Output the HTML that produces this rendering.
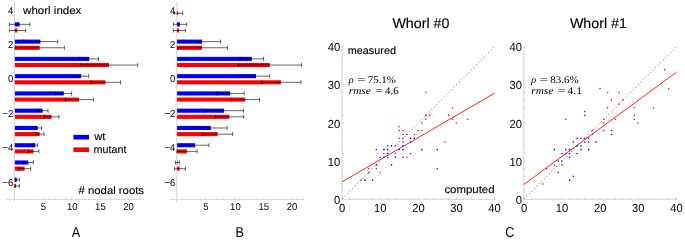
<!DOCTYPE html><html><head><meta charset="utf-8"><style>html,body{margin:0;padding:0;background:#fff}svg{display:block;will-change:transform}text{font-family:"Liberation Sans",sans-serif;fill:#000;text-rendering:geometricPrecision}.s{font-family:"Liberation Serif",serif;font-style:italic}.r{font-family:"Liberation Serif",serif}</style></head><body>
<svg width="685" height="242" viewBox="0 0 685 242">
<rect width="685" height="242" fill="#fff"/>
<path d="M14.45 1.7V202.4" stroke="#c0c0c0" stroke-width="0.7" fill="none"/>
<path d="M6.4 199.4H141" stroke="#d6d6d6" stroke-width="0.9" fill="none"/>
<path d="M20.48 199.6v-1.0M26.16 199.6v-1.0M31.84 199.6v-1.0M37.52 199.6v-1.0M43.20 199.6v-1.6M48.88 199.6v-1.0M54.56 199.6v-1.0M60.24 199.6v-1.0M65.92 199.6v-1.0M71.60 199.6v-1.6M77.28 199.6v-1.0M82.96 199.6v-1.0M88.64 199.6v-1.0M94.32 199.6v-1.0M100.00 199.6v-1.6M105.68 199.6v-1.0M111.36 199.6v-1.0M117.04 199.6v-1.0M122.72 199.6v-1.0M128.40 199.6v-1.6M134.08 199.6v-1.0M139.76 199.6v-1.0" stroke="#b0b0b0" stroke-width="0.55" fill="none"/>
<rect x="14.9" y="22.30" width="4.70" height="4.1" fill="#0000ff"/>
<path d="M9.40 24.35H29.90M9.40 22.30v4.1M29.90 22.30v4.1" stroke="#000" stroke-width="0.66" fill="none" opacity="0.92"/>
<rect x="14.9" y="28.45" width="2.40" height="4.1" fill="#ff0000"/>
<path d="M9.40 30.50H25.60M9.40 28.45v4.1M25.60 28.45v4.1" stroke="#000" stroke-width="0.66" fill="none" opacity="0.92"/>
<rect x="14.9" y="39.57" width="25.50" height="4.1" fill="#0000ff"/>
<path d="M23.50 41.62H57.70M23.50 39.57v4.1M57.70 39.57v4.1" stroke="#000" stroke-width="0.66" fill="none" opacity="0.92"/>
<rect x="14.9" y="45.72" width="24.80" height="4.1" fill="#ff0000"/>
<path d="M15.20 47.77H64.40M15.20 45.72v4.1M64.40 45.72v4.1" stroke="#000" stroke-width="0.66" fill="none" opacity="0.92"/>
<rect x="14.9" y="56.84" width="74.30" height="4.1" fill="#0000ff"/>
<path d="M79.60 58.89H98.50M79.60 56.84v4.1M98.50 56.84v4.1" stroke="#000" stroke-width="0.66" fill="none" opacity="0.92"/>
<rect x="14.9" y="62.99" width="94.10" height="4.1" fill="#ff0000"/>
<path d="M80.40 65.04H137.70M80.40 62.99v4.1M137.70 62.99v4.1" stroke="#000" stroke-width="0.66" fill="none" opacity="0.92"/>
<rect x="14.9" y="74.11" width="66.30" height="4.1" fill="#0000ff"/>
<path d="M73.60 76.16H88.70M73.60 74.11v4.1M88.70 74.11v4.1" stroke="#000" stroke-width="0.66" fill="none" opacity="0.92"/>
<rect x="14.9" y="80.26" width="90.60" height="4.1" fill="#ff0000"/>
<path d="M91.00 82.31H120.60M91.00 80.26v4.1M120.60 80.26v4.1" stroke="#000" stroke-width="0.66" fill="none" opacity="0.92"/>
<rect x="14.9" y="91.38" width="48.90" height="4.1" fill="#0000ff"/>
<path d="M55.50 93.43H71.60M55.50 91.38v4.1M71.60 91.38v4.1" stroke="#000" stroke-width="0.66" fill="none" opacity="0.92"/>
<rect x="14.9" y="97.53" width="64.20" height="4.1" fill="#ff0000"/>
<path d="M65.30 99.58H93.50M65.30 97.53v4.1M93.50 97.53v4.1" stroke="#000" stroke-width="0.66" fill="none" opacity="0.92"/>
<rect x="14.9" y="108.65" width="27.80" height="4.1" fill="#0000ff"/>
<path d="M37.20 110.70H48.00M37.20 108.65v4.1M48.00 108.65v4.1" stroke="#000" stroke-width="0.66" fill="none" opacity="0.92"/>
<rect x="14.9" y="114.80" width="36.60" height="4.1" fill="#ff0000"/>
<path d="M44.00 116.85H59.00M44.00 114.80v4.1M59.00 114.80v4.1" stroke="#000" stroke-width="0.66" fill="none" opacity="0.92"/>
<rect x="14.9" y="125.92" width="22.80" height="4.1" fill="#0000ff"/>
<path d="M35.40 127.97H41.50M35.40 125.92v4.1M41.50 125.92v4.1" stroke="#000" stroke-width="0.66" fill="none" opacity="0.92"/>
<rect x="14.9" y="132.07" width="24.80" height="4.1" fill="#ff0000"/>
<path d="M35.90 134.12H44.00M35.90 132.07v4.1M44.00 132.07v4.1" stroke="#000" stroke-width="0.66" fill="none" opacity="0.92"/>
<rect x="14.9" y="143.19" width="20.30" height="4.1" fill="#0000ff"/>
<path d="M32.70 145.24H37.70M32.70 143.19v4.1M37.70 143.19v4.1" stroke="#000" stroke-width="0.66" fill="none" opacity="0.92"/>
<rect x="14.9" y="149.34" width="18.50" height="4.1" fill="#ff0000"/>
<path d="M28.40 151.39H38.90M28.40 149.34v4.1M38.90 149.34v4.1" stroke="#000" stroke-width="0.66" fill="none" opacity="0.92"/>
<rect x="14.9" y="160.46" width="13.50" height="4.1" fill="#0000ff"/>
<path d="M23.90 162.51H33.40M23.90 160.46v4.1M33.40 160.46v4.1" stroke="#000" stroke-width="0.66" fill="none" opacity="0.92"/>
<rect x="14.9" y="166.61" width="9.70" height="4.1" fill="#ff0000"/>
<path d="M18.80 168.66H30.70M18.80 166.61v4.1M30.70 166.61v4.1" stroke="#000" stroke-width="0.66" fill="none" opacity="0.92"/>
<rect x="14.9" y="177.73" width="1.90" height="4.1" fill="#0000ff"/>
<path d="M15.00 179.78H19.30M15.00 177.73v4.1M19.30 177.73v4.1" stroke="#000" stroke-width="0.66" fill="none" opacity="0.92"/>
<rect x="14.9" y="183.88" width="1.20" height="4.1" fill="#ff0000"/>
<path d="M14.30 185.93H19.30M14.30 183.88v4.1M19.30 183.88v4.1" stroke="#000" stroke-width="0.66" fill="none" opacity="0.92"/>
<text transform="translate(13.3 13.7) scale(0.95 1)" font-size="10.0" text-anchor="end">4</text>
<text transform="translate(13.3 48.0) scale(0.95 1)" font-size="10.0" text-anchor="end">2</text>
<text transform="translate(13.3 82.4) scale(0.95 1)" font-size="10.0" text-anchor="end">0</text>
<text transform="translate(13.3 117.2) scale(0.95 1)" font-size="10.0" text-anchor="end">−2</text>
<text transform="translate(13.3 151.1) scale(0.95 1)" font-size="10.0" text-anchor="end">−4</text>
<text transform="translate(13.3 186.4) scale(0.95 1)" font-size="10.0" text-anchor="end">−6</text>
<text transform="translate(43.3 209.9) scale(0.95 1)" font-size="10.0" text-anchor="middle">5</text>
<text transform="translate(72.2 209.9) scale(0.95 1)" font-size="10.0" text-anchor="middle">10</text>
<text transform="translate(100.4 209.9) scale(0.95 1)" font-size="10.0" text-anchor="middle">15</text>
<text transform="translate(128.6 209.9) scale(0.95 1)" font-size="10.0" text-anchor="middle">20</text>
<text x="23.1" y="13.6" font-size="10.8" stroke="#000" stroke-width="0.12" textLength="58.3" lengthAdjust="spacingAndGlyphs">whorl index</text>
<text x="78.6" y="194.2" font-size="10.8" stroke="#000" stroke-width="0.12" textLength="65.4" lengthAdjust="spacingAndGlyphs"># nodal roots</text>
<rect x="73.4" y="134.9" width="15.6" height="4.6" fill="#0000ff"/>
<rect x="73.4" y="147.4" width="15.6" height="4.6" fill="#ff0000"/>
<text x="94.2" y="140.4" font-size="10.8" stroke="#000" stroke-width="0.12" textLength="11.3" lengthAdjust="spacingAndGlyphs">wt</text>
<text x="93.5" y="153" font-size="10.8" stroke="#000" stroke-width="0.12" textLength="32.9" lengthAdjust="spacingAndGlyphs">mutant</text>
<path d="M176.85 1.7V202.4" stroke="#c0c0c0" stroke-width="0.7" fill="none"/>
<path d="M170.6 199.4H304" stroke="#d6d6d6" stroke-width="0.9" fill="none"/>
<path d="M182.82 199.6v-1.0M188.54 199.6v-1.0M194.26 199.6v-1.0M199.98 199.6v-1.0M205.70 199.6v-1.6M211.42 199.6v-1.0M217.14 199.6v-1.0M222.86 199.6v-1.0M228.58 199.6v-1.0M234.30 199.6v-1.6M240.02 199.6v-1.0M245.74 199.6v-1.0M251.46 199.6v-1.0M257.18 199.6v-1.0M262.90 199.6v-1.6M268.62 199.6v-1.0M274.34 199.6v-1.0M280.06 199.6v-1.0M285.78 199.6v-1.0M291.50 199.6v-1.6M297.22 199.6v-1.0M302.94 199.6v-1.0" stroke="#b0b0b0" stroke-width="0.55" fill="none"/>
<rect x="177.1" y="11.18" width="1.00" height="4.1" fill="#ff0000"/>
<path d="M174.40 13.23H182.70M174.40 11.18v4.1M182.70 11.18v4.1" stroke="#000" stroke-width="0.66" fill="none" opacity="0.92"/>
<rect x="177.1" y="22.30" width="2.80" height="4.1" fill="#0000ff"/>
<path d="M173.40 24.35H186.70M173.40 22.30v4.1M186.70 22.30v4.1" stroke="#000" stroke-width="0.66" fill="none" opacity="0.92"/>
<rect x="177.1" y="28.45" width="2.00" height="4.1" fill="#ff0000"/>
<path d="M173.40 30.50H185.40M173.40 28.45v4.1M185.40 28.45v4.1" stroke="#000" stroke-width="0.66" fill="none" opacity="0.92"/>
<rect x="177.1" y="39.57" width="24.90" height="4.1" fill="#0000ff"/>
<path d="M183.40 41.62H220.60M183.40 39.57v4.1M220.60 39.57v4.1" stroke="#000" stroke-width="0.66" fill="none" opacity="0.92"/>
<rect x="177.1" y="45.72" width="24.90" height="4.1" fill="#ff0000"/>
<path d="M177.30 47.77H227.40M177.30 45.72v4.1M227.40 45.72v4.1" stroke="#000" stroke-width="0.66" fill="none" opacity="0.92"/>
<rect x="177.1" y="56.84" width="74.70" height="4.1" fill="#0000ff"/>
<path d="M240.00 58.89H263.60M240.00 56.84v4.1M263.60 56.84v4.1" stroke="#000" stroke-width="0.66" fill="none" opacity="0.92"/>
<rect x="177.1" y="62.99" width="92.70" height="4.1" fill="#ff0000"/>
<path d="M238.20 65.04H301.50M238.20 62.99v4.1M301.50 62.99v4.1" stroke="#000" stroke-width="0.66" fill="none" opacity="0.92"/>
<rect x="177.1" y="74.11" width="78.90" height="4.1" fill="#0000ff"/>
<path d="M242.50 76.16H269.60M242.50 74.11v4.1M269.60 74.11v4.1" stroke="#000" stroke-width="0.66" fill="none" opacity="0.92"/>
<rect x="177.1" y="80.26" width="103.80" height="4.1" fill="#ff0000"/>
<path d="M261.60 82.31H301.00M261.60 80.26v4.1M301.00 80.26v4.1" stroke="#000" stroke-width="0.66" fill="none" opacity="0.92"/>
<rect x="177.1" y="91.38" width="53.10" height="4.1" fill="#0000ff"/>
<path d="M216.60 93.43H244.20M216.60 91.38v4.1M244.20 91.38v4.1" stroke="#000" stroke-width="0.66" fill="none" opacity="0.92"/>
<rect x="177.1" y="97.53" width="68.10" height="4.1" fill="#ff0000"/>
<path d="M231.40 99.58H259.50M231.40 97.53v4.1M259.50 97.53v4.1" stroke="#000" stroke-width="0.66" fill="none" opacity="0.92"/>
<rect x="177.1" y="108.65" width="47.00" height="4.1" fill="#0000ff"/>
<path d="M204.50 110.70H243.50M204.50 108.65v4.1M243.50 108.65v4.1" stroke="#000" stroke-width="0.66" fill="none" opacity="0.92"/>
<rect x="177.1" y="114.80" width="52.30" height="4.1" fill="#ff0000"/>
<path d="M215.10 116.85H243.70M215.10 114.80v4.1M243.70 114.80v4.1" stroke="#000" stroke-width="0.66" fill="none" opacity="0.92"/>
<rect x="177.1" y="125.92" width="33.70" height="4.1" fill="#0000ff"/>
<path d="M194.50 127.97H227.10M194.50 125.92v4.1M227.10 125.92v4.1" stroke="#000" stroke-width="0.66" fill="none" opacity="0.92"/>
<rect x="177.1" y="132.07" width="40.50" height="4.1" fill="#ff0000"/>
<path d="M202.30 134.12H232.70M202.30 132.07v4.1M232.70 132.07v4.1" stroke="#000" stroke-width="0.66" fill="none" opacity="0.92"/>
<rect x="177.1" y="143.19" width="18.10" height="4.1" fill="#0000ff"/>
<path d="M181.40 145.24H209.00M181.40 143.19v4.1M209.00 143.19v4.1" stroke="#000" stroke-width="0.66" fill="none" opacity="0.92"/>
<rect x="177.1" y="149.34" width="9.80" height="4.1" fill="#ff0000"/>
<path d="M176.90 151.39H197.20M176.90 149.34v4.1M197.20 149.34v4.1" stroke="#000" stroke-width="0.66" fill="none" opacity="0.92"/>
<rect x="177.1" y="160.46" width="0.40" height="4.1" fill="#0000ff"/>
<path d="M175.40 162.51H179.40M175.40 160.46v4.1M179.40 160.46v4.1" stroke="#000" stroke-width="0.66" fill="none" opacity="0.92"/>
<rect x="177.1" y="166.61" width="2.50" height="4.1" fill="#ff0000"/>
<path d="M174.40 168.66H185.40M174.40 166.61v4.1M185.40 166.61v4.1" stroke="#000" stroke-width="0.66" fill="none" opacity="0.92"/>
<text transform="translate(175.3 13.7) scale(0.95 1)" font-size="10.0" text-anchor="end">4</text>
<text transform="translate(175.3 48.0) scale(0.95 1)" font-size="10.0" text-anchor="end">2</text>
<text transform="translate(175.3 82.4) scale(0.95 1)" font-size="10.0" text-anchor="end">0</text>
<text transform="translate(175.3 117.2) scale(0.95 1)" font-size="10.0" text-anchor="end">−2</text>
<text transform="translate(175.3 151.1) scale(0.95 1)" font-size="10.0" text-anchor="end">−4</text>
<text transform="translate(175.3 186.4) scale(0.95 1)" font-size="10.0" text-anchor="end">−6</text>
<text transform="translate(205.8 209.9) scale(0.95 1)" font-size="10.0" text-anchor="middle">5</text>
<text transform="translate(235.4 209.9) scale(0.95 1)" font-size="10.0" text-anchor="middle">10</text>
<text transform="translate(263.8 209.9) scale(0.95 1)" font-size="10.0" text-anchor="middle">15</text>
<text transform="translate(292 209.9) scale(0.95 1)" font-size="10.0" text-anchor="middle">20</text>
<text transform="translate(76.0 237.2) scale(0.88 1)" font-size="14.3" text-anchor="middle">A</text>
<text transform="translate(239.8 237.2) scale(0.88 1)" font-size="14.3" text-anchor="middle">B</text>
<text transform="translate(509.8 237.2) scale(0.88 1)" font-size="14.3" text-anchor="middle">C</text>
<path d="M342 46.79999999999998V199.7M341.6 199.29999999999998H495.4" stroke="#b0b0b0" stroke-width="0.55" fill="none"/>
<path d="M349.62 199.2v-1.4M342 191.58h1.4M357.24 199.2v-1.4M342 183.96h1.4M364.86 199.2v-1.4M342 176.34h1.4M372.48 199.2v-1.4M342 168.72h1.4M380.10 199.2v-2.3M342 161.10h2.3M387.72 199.2v-1.4M342 153.48h1.4M395.34 199.2v-1.4M342 145.86h1.4M402.96 199.2v-1.4M342 138.24h1.4M410.58 199.2v-1.4M342 130.62h1.4M418.20 199.2v-2.3M342 123.00h2.3M425.82 199.2v-1.4M342 115.38h1.4M433.44 199.2v-1.4M342 107.76h1.4M441.06 199.2v-1.4M342 100.14h1.4M448.68 199.2v-1.4M342 92.52h1.4M456.30 199.2v-2.3M342 84.90h2.3M463.92 199.2v-1.4M342 77.28h1.4M471.54 199.2v-1.4M342 69.66h1.4M479.16 199.2v-1.4M342 62.04h1.4M486.78 199.2v-1.4M342 54.42h1.4M494.40 199.2v-2.3M342 46.80h2.3" stroke="#b4b4b4" stroke-width="0.55" fill="none"/>
<path d="M342 199.2L494.4 46.79999999999998" stroke="#787878" stroke-width="1.05" stroke-linecap="round" stroke-dasharray="0.01 3.49" stroke-dashoffset="-1" fill="none"/>
<path d="M342 181.86L494.4 93.32" stroke="#ff2020" stroke-width="1" fill="none"/>
<circle cx="399.15" cy="126.81" r="0.8" fill="#ff0000"/>
<circle cx="399.15" cy="130.62" r="0.8" fill="#ff0000"/>
<circle cx="402.96" cy="130.62" r="0.8" fill="#ff0000"/>
<circle cx="402.96" cy="134.43" r="0.8" fill="#ff0000"/>
<circle cx="406.77" cy="134.43" r="0.8" fill="#ff0000"/>
<circle cx="399.15" cy="138.24" r="0.8" fill="#ff0000"/>
<circle cx="402.96" cy="138.24" r="0.8" fill="#ff0000"/>
<circle cx="402.96" cy="142.05" r="0.8" fill="#ff0000"/>
<circle cx="395.34" cy="145.86" r="0.8" fill="#ff0000"/>
<circle cx="414.39" cy="134.43" r="0.8" fill="#ff0000"/>
<circle cx="418.20" cy="130.62" r="0.8" fill="#ff0000"/>
<circle cx="422.01" cy="130.62" r="0.8" fill="#ff0000"/>
<circle cx="422.01" cy="123.00" r="0.8" fill="#ff0000"/>
<circle cx="425.82" cy="119.19" r="0.8" fill="#ff0000"/>
<circle cx="425.82" cy="115.38" r="0.8" fill="#ff0000"/>
<circle cx="429.63" cy="115.38" r="0.8" fill="#ff0000"/>
<circle cx="425.82" cy="92.52" r="0.8" fill="#ff0000"/>
<circle cx="452.49" cy="107.76" r="0.8" fill="#ff0000"/>
<circle cx="448.68" cy="115.38" r="0.8" fill="#ff0000"/>
<circle cx="452.49" cy="119.19" r="0.8" fill="#ff0000"/>
<circle cx="467.73" cy="119.19" r="0.8" fill="#ff0000"/>
<circle cx="456.30" cy="123.00" r="0.8" fill="#ff0000"/>
<circle cx="444.87" cy="142.05" r="0.8" fill="#ff0000"/>
<circle cx="376.29" cy="149.67" r="0.8" fill="#ff0000"/>
<circle cx="383.91" cy="153.48" r="0.8" fill="#ff0000"/>
<circle cx="395.34" cy="153.48" r="0.8" fill="#ff0000"/>
<circle cx="410.58" cy="153.48" r="0.8" fill="#ff0000"/>
<circle cx="406.77" cy="157.29" r="0.8" fill="#ff0000"/>
<circle cx="368.67" cy="168.72" r="0.8" fill="#ff0000"/>
<circle cx="376.29" cy="168.72" r="0.8" fill="#ff0000"/>
<circle cx="380.10" cy="172.53" r="0.8" fill="#ff0000"/>
<circle cx="361.05" cy="180.15" r="0.8" fill="#ff0000"/>
<circle cx="387.72" cy="145.86" r="0.8" fill="#0000ff"/>
<circle cx="391.53" cy="145.86" r="0.8" fill="#0000ff"/>
<circle cx="402.96" cy="145.86" r="0.8" fill="#0000ff"/>
<circle cx="410.58" cy="138.24" r="0.8" fill="#0000ff"/>
<circle cx="414.39" cy="138.24" r="0.8" fill="#0000ff"/>
<circle cx="410.58" cy="142.05" r="0.8" fill="#0000ff"/>
<circle cx="383.91" cy="149.67" r="0.8" fill="#0000ff"/>
<circle cx="387.72" cy="149.67" r="0.8" fill="#0000ff"/>
<circle cx="399.15" cy="149.67" r="0.8" fill="#0000ff"/>
<circle cx="402.96" cy="149.67" r="0.8" fill="#0000ff"/>
<circle cx="422.01" cy="149.67" r="0.8" fill="#0000ff"/>
<circle cx="437.25" cy="149.67" r="0.8" fill="#0000ff"/>
<circle cx="387.72" cy="153.48" r="0.8" fill="#0000ff"/>
<circle cx="380.10" cy="157.29" r="0.8" fill="#0000ff"/>
<circle cx="383.91" cy="157.29" r="0.8" fill="#0000ff"/>
<circle cx="387.72" cy="157.29" r="0.8" fill="#0000ff"/>
<circle cx="395.34" cy="157.29" r="0.8" fill="#0000ff"/>
<circle cx="402.96" cy="157.29" r="0.8" fill="#0000ff"/>
<circle cx="376.29" cy="164.91" r="0.8" fill="#0000ff"/>
<circle cx="391.53" cy="164.91" r="0.8" fill="#0000ff"/>
<circle cx="368.67" cy="172.53" r="0.8" fill="#0000ff"/>
<circle cx="364.86" cy="180.15" r="0.8" fill="#0000ff"/>
<circle cx="372.48" cy="180.15" r="0.8" fill="#0000ff"/>
<circle cx="437.25" cy="168.72" r="0.8" fill="#0000ff"/>
<text transform="translate(340.3 203.7) scale(0.96 1)" font-size="11.7" text-anchor="end">0</text>
<text transform="translate(342.2 211.7) scale(0.96 1)" font-size="11.7" text-anchor="middle">0</text>
<text transform="translate(340.3 165.6) scale(0.96 1)" font-size="11.7" text-anchor="end">10</text>
<text transform="translate(380.3 211.7) scale(0.96 1)" font-size="11.7" text-anchor="middle">10</text>
<text transform="translate(340.3 127.5) scale(0.96 1)" font-size="11.7" text-anchor="end">20</text>
<text transform="translate(418.4 211.7) scale(0.96 1)" font-size="11.7" text-anchor="middle">20</text>
<text transform="translate(340.3 89.4) scale(0.96 1)" font-size="11.7" text-anchor="end">30</text>
<text transform="translate(456.5 211.7) scale(0.96 1)" font-size="11.7" text-anchor="middle">30</text>
<text transform="translate(340.3 51.3) scale(0.96 1)" font-size="11.7" text-anchor="end">40</text>
<text transform="translate(494.6 211.7) scale(0.96 1)" font-size="11.7" text-anchor="middle">40</text>
<text x="392.4" y="28.1" font-size="14" stroke="#000" stroke-width="0.12" textLength="57.1" lengthAdjust="spacingAndGlyphs">Whorl #0</text>
<text x="348.7" y="82.7" font-size="10.2" class="s" textLength="4.9" lengthAdjust="spacingAndGlyphs">ρ</text>
<text x="357.3" y="82.7" font-size="10.2" class="r" textLength="8.3" lengthAdjust="spacingAndGlyphs">=</text>
<text x="367.7" y="82.7" font-size="10.2" class="r" textLength="28.3" lengthAdjust="spacingAndGlyphs">75.1%</text>
<text x="348.7" y="94" font-size="10.2" class="s" textLength="22.2" lengthAdjust="spacingAndGlyphs">rmse</text>
<text x="375.1" y="94" font-size="10.2" class="r" textLength="8.3" lengthAdjust="spacingAndGlyphs">=</text>
<text x="385.1" y="94" font-size="10.2" class="r" textLength="13.5" lengthAdjust="spacingAndGlyphs">4.6</text>
<text x="347.7" y="53.8" font-size="10.8" stroke="#000" stroke-width="0.12" textLength="48.3" lengthAdjust="spacingAndGlyphs">measured</text>
<text x="444.4" y="193.4" font-size="10.8" stroke="#000" stroke-width="0.12" textLength="50.2" lengthAdjust="spacingAndGlyphs">computed</text>
<path d="M523.8 46.79999999999998V199.7M523.4 199.29999999999998H677.1999999999999" stroke="#b0b0b0" stroke-width="0.55" fill="none"/>
<path d="M531.42 199.2v-1.4M523.8 191.58h1.4M539.04 199.2v-1.4M523.8 183.96h1.4M546.66 199.2v-1.4M523.8 176.34h1.4M554.28 199.2v-1.4M523.8 168.72h1.4M561.90 199.2v-2.3M523.8 161.10h2.3M569.52 199.2v-1.4M523.8 153.48h1.4M577.14 199.2v-1.4M523.8 145.86h1.4M584.76 199.2v-1.4M523.8 138.24h1.4M592.38 199.2v-1.4M523.8 130.62h1.4M600.00 199.2v-2.3M523.8 123.00h2.3M607.62 199.2v-1.4M523.8 115.38h1.4M615.24 199.2v-1.4M523.8 107.76h1.4M622.86 199.2v-1.4M523.8 100.14h1.4M630.48 199.2v-1.4M523.8 92.52h1.4M638.10 199.2v-2.3M523.8 84.90h2.3M645.72 199.2v-1.4M523.8 77.28h1.4M653.34 199.2v-1.4M523.8 69.66h1.4M660.96 199.2v-1.4M523.8 62.04h1.4M668.58 199.2v-1.4M523.8 54.42h1.4M676.20 199.2v-2.3M523.8 46.80h2.3" stroke="#b4b4b4" stroke-width="0.55" fill="none"/>
<path d="M523.8 199.2L676.1999999999999 46.79999999999998" stroke="#787878" stroke-width="1.05" stroke-linecap="round" stroke-dasharray="0.01 3.49" stroke-dashoffset="-1" fill="none"/>
<path d="M523.8 184.53L676.1999999999999 72.37" stroke="#ff2020" stroke-width="1" fill="none"/>
<circle cx="542.85" cy="183.96" r="0.8" fill="#ff0000"/>
<circle cx="546.66" cy="168.72" r="0.8" fill="#ff0000"/>
<circle cx="554.28" cy="164.91" r="0.8" fill="#ff0000"/>
<circle cx="561.90" cy="164.91" r="0.8" fill="#ff0000"/>
<circle cx="580.95" cy="138.24" r="0.8" fill="#ff0000"/>
<circle cx="592.38" cy="130.62" r="0.8" fill="#ff0000"/>
<circle cx="600.00" cy="88.71" r="0.8" fill="#ff0000"/>
<circle cx="607.62" cy="92.52" r="0.8" fill="#ff0000"/>
<circle cx="619.05" cy="92.52" r="0.8" fill="#ff0000"/>
<circle cx="611.43" cy="100.14" r="0.8" fill="#ff0000"/>
<circle cx="622.86" cy="100.14" r="0.8" fill="#ff0000"/>
<circle cx="619.05" cy="103.95" r="0.8" fill="#ff0000"/>
<circle cx="607.62" cy="107.76" r="0.8" fill="#ff0000"/>
<circle cx="634.29" cy="107.76" r="0.8" fill="#ff0000"/>
<circle cx="584.76" cy="111.57" r="0.8" fill="#ff0000"/>
<circle cx="584.76" cy="115.38" r="0.8" fill="#ff0000"/>
<circle cx="634.29" cy="115.38" r="0.8" fill="#ff0000"/>
<circle cx="603.81" cy="119.19" r="0.8" fill="#ff0000"/>
<circle cx="615.24" cy="119.19" r="0.8" fill="#ff0000"/>
<circle cx="634.29" cy="119.19" r="0.8" fill="#ff0000"/>
<circle cx="603.81" cy="123.00" r="0.8" fill="#ff0000"/>
<circle cx="638.10" cy="123.00" r="0.8" fill="#ff0000"/>
<circle cx="603.81" cy="130.62" r="0.8" fill="#ff0000"/>
<circle cx="611.43" cy="130.62" r="0.8" fill="#ff0000"/>
<circle cx="592.38" cy="134.43" r="0.8" fill="#ff0000"/>
<circle cx="565.71" cy="119.19" r="0.8" fill="#ff0000"/>
<circle cx="664.77" cy="69.66" r="0.8" fill="#ff0000"/>
<circle cx="668.58" cy="88.71" r="0.8" fill="#ff0000"/>
<circle cx="653.34" cy="107.76" r="0.8" fill="#ff0000"/>
<circle cx="558.09" cy="172.53" r="0.8" fill="#0000ff"/>
<circle cx="558.09" cy="161.10" r="0.8" fill="#0000ff"/>
<circle cx="561.90" cy="161.10" r="0.8" fill="#0000ff"/>
<circle cx="569.52" cy="180.15" r="0.8" fill="#0000ff"/>
<circle cx="573.33" cy="176.34" r="0.8" fill="#0000ff"/>
<circle cx="577.14" cy="138.24" r="0.8" fill="#0000ff"/>
<circle cx="584.76" cy="138.24" r="0.8" fill="#0000ff"/>
<circle cx="588.57" cy="138.24" r="0.8" fill="#0000ff"/>
<circle cx="573.33" cy="142.05" r="0.8" fill="#0000ff"/>
<circle cx="584.76" cy="142.05" r="0.8" fill="#0000ff"/>
<circle cx="588.57" cy="142.05" r="0.8" fill="#0000ff"/>
<circle cx="596.19" cy="142.05" r="0.8" fill="#0000ff"/>
<circle cx="577.14" cy="145.86" r="0.8" fill="#0000ff"/>
<circle cx="580.95" cy="145.86" r="0.8" fill="#0000ff"/>
<circle cx="554.28" cy="149.67" r="0.8" fill="#0000ff"/>
<circle cx="565.71" cy="149.67" r="0.8" fill="#0000ff"/>
<circle cx="569.52" cy="149.67" r="0.8" fill="#0000ff"/>
<circle cx="580.95" cy="149.67" r="0.8" fill="#0000ff"/>
<circle cx="588.57" cy="149.67" r="0.8" fill="#0000ff"/>
<circle cx="561.90" cy="153.48" r="0.8" fill="#0000ff"/>
<circle cx="565.71" cy="153.48" r="0.8" fill="#0000ff"/>
<circle cx="569.52" cy="153.48" r="0.8" fill="#0000ff"/>
<circle cx="577.14" cy="153.48" r="0.8" fill="#0000ff"/>
<circle cx="569.52" cy="157.29" r="0.8" fill="#0000ff"/>
<circle cx="611.43" cy="134.43" r="0.8" fill="#0000ff"/>
<text transform="translate(522.1 203.7) scale(0.96 1)" font-size="11.7" text-anchor="end">0</text>
<text transform="translate(524.0 211.7) scale(0.96 1)" font-size="11.7" text-anchor="middle">0</text>
<text transform="translate(522.1 165.6) scale(0.96 1)" font-size="11.7" text-anchor="end">10</text>
<text transform="translate(562.1 211.7) scale(0.96 1)" font-size="11.7" text-anchor="middle">10</text>
<text transform="translate(522.1 127.5) scale(0.96 1)" font-size="11.7" text-anchor="end">20</text>
<text transform="translate(600.2 211.7) scale(0.96 1)" font-size="11.7" text-anchor="middle">20</text>
<text transform="translate(522.1 89.4) scale(0.96 1)" font-size="11.7" text-anchor="end">30</text>
<text transform="translate(638.3 211.7) scale(0.96 1)" font-size="11.7" text-anchor="middle">30</text>
<text transform="translate(522.1 51.3) scale(0.96 1)" font-size="11.7" text-anchor="end">40</text>
<text transform="translate(676.4 211.7) scale(0.96 1)" font-size="11.7" text-anchor="middle">40</text>
<text x="569.9" y="28.1" font-size="14" stroke="#000" stroke-width="0.12" textLength="57.1" lengthAdjust="spacingAndGlyphs">Whorl #1</text>
<text x="531.2" y="82.7" font-size="10.2" class="s" textLength="4.9" lengthAdjust="spacingAndGlyphs">ρ</text>
<text x="539.8" y="82.7" font-size="10.2" class="r" textLength="8.3" lengthAdjust="spacingAndGlyphs">=</text>
<text x="550.2" y="82.7" font-size="10.2" class="r" textLength="28.5" lengthAdjust="spacingAndGlyphs">83.6%</text>
<text x="531.2" y="94" font-size="10.2" class="s" textLength="22.2" lengthAdjust="spacingAndGlyphs">rmse</text>
<text x="557.6" y="94" font-size="10.2" class="r" textLength="8.3" lengthAdjust="spacingAndGlyphs">=</text>
<text x="567.6" y="94" font-size="10.2" class="r" textLength="14.4" lengthAdjust="spacingAndGlyphs">4.1</text>
</svg></body></html>
